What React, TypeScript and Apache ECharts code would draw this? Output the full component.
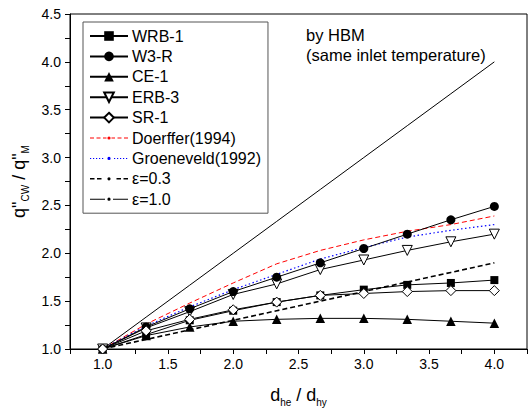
import React, { useEffect, useRef } from 'react';
import * as echarts from 'echarts';

const ratioX = [1.0, 1.333, 1.667, 2.0, 2.333, 2.667, 3.0, 3.333, 3.667, 4.0];
const wrb1 = [1.0, 1.15, 1.30, 1.40, 1.49, 1.56, 1.62, 1.67, 1.69, 1.72];
const w3r = [1.0, 1.23, 1.42, 1.60, 1.75, 1.90, 2.05, 2.20, 2.35, 2.49];
const ce1 = [1.0, 1.14, 1.23, 1.29, 1.31, 1.32, 1.32, 1.31, 1.29, 1.27];
const erb3 = [1.0, 1.22, 1.39, 1.57, 1.68, 1.83, 1.93, 2.03, 2.12, 2.20];
const sr1 = [1.0, 1.19, 1.31, 1.41, 1.49, 1.56, 1.58, 1.60, 1.61, 1.61];
const doerffer = [1.0, 1.26, 1.48, 1.69, 1.89, 2.03, 2.14, 2.23, 2.30, 2.39];
const groeneveld = [1.0, 1.24, 1.44, 1.62, 1.78, 1.94, 2.06, 2.17, 2.24, 2.30];
const eps03 = [1.0, 1.10, 1.20, 1.30, 1.40, 1.50, 1.60, 1.70, 1.80, 1.90];
const eps10 = [1.0, 1.333, 1.667, 2.0, 2.333, 2.667, 3.0, 3.333, 3.667, 4.0];

const FONT = 'Liberation Sans, Arial, sans-serif';

const corners = 'M0,0h0.01v0.01h-0.01z M37.99,11.99h0.01v0.01h-0.01z ';
const dot = 'M17.4,6a1.6,1.6 0 1,0 3.2,0a1.6,1.6 0 1,0 -3.2,0z ';
const dashIcon =
  'path://' + corners + dot +
  'M0,5.5h4v1h-4z M6.5,5.5h4v1h-4z M13,5.5h3.5v1h-3.5z M21.5,5.5h3.5v1h-3.5z M27.5,5.5h4v1h-4z M34,5.5h4v1h-4z';
const dotIcon = (() => {
  let d = 'path://' + corners + dot;
  for (let x = 0; x < 38; x += 3) {
    if (x > 14 && x < 22) continue;
    d += `M${x},5.5h1.2v1h-1.2z `;
  }
  return d;
})();
const boldDashIcon =
  'path://' + corners + dot +
  'M0,5.2h4.5v1.6h-4.5z M7,5.2h4.5v1.6h-4.5z M26.5,5.2h4.5v1.6h-4.5z M33.5,5.2h4.5v1.6h-4.5z';
const solidIcon =
  'path://' + corners + dot + 'M0,5.5h15v1h-15z M23,5.5h15v1h-15z';

function pts(ys: number[]) {
  return ratioX.map((x, i) => [x, ys[i]]);
}

function markerSeries(name: string, ys: number[], symbol: string, size: number, hollow: boolean, rotate = 0, z = 4) {
  return {
    type: 'line',
    name,
    data: pts(ys),
    symbol,
    symbolSize: size,
    symbolRotate: rotate,
    showAllSymbol: true,
    lineStyle: { color: '#000', width: 1 },
    itemStyle: hollow
      ? { color: '#fff', borderColor: '#000', borderWidth: 1 }
      : { color: '#000', borderColor: '#000', borderWidth: 0 },
    z,
  };
}

function lineSeries(name: string, ys: number[], color: string, type: any, width: number) {
  return {
    type: 'line',
    name,
    data: pts(ys),
    symbol: 'none',
    lineStyle: { color, width, type },
    itemStyle: { color, borderWidth: 0 },
    z: 3,
  };
}

export default function App() {
  const ref = useRef<HTMLDivElement>(null);
  useEffect(() => {
    if (!ref.current) return;
    const chart = echarts.init(ref.current, null, { renderer: 'svg' });
    const fmt = (lo: number, hi: number) => (v: number) => {
      const r = Math.round(v * 100) / 100;
      if (Math.abs(r * 2 - Math.round(r * 2)) < 1e-6 && r >= lo - 1e-6 && r <= hi + 1e-6) return r.toFixed(1);
      return '';
    };
    const nameRich = {
      a: { fontSize: 18, fontFamily: FONT, color: '#000', lineHeight: 20, verticalAlign: 'bottom' },
      b: { fontSize: 10, fontFamily: FONT, color: '#000', lineHeight: 10, verticalAlign: 'bottom', padding: [0, 0, -3, 0] },
    };
    chart.setOption({
      animation: false,
      backgroundColor: '#fff',
      textStyle: { fontFamily: FONT },
      grid: {
        left: 70, right: 2, top: 14, bottom: 59,
        show: true, borderColor: '#000', borderWidth: 1,
      },
      xAxis: {
        type: 'value', min: 0.75, max: 4.25, interval: 0.25,
        splitLine: { show: false },
        axisLine: { lineStyle: { color: '#000', width: 1 } },
        axisTick: { length: 5, lineStyle: { color: '#000' } },
        axisLabel: { color: '#000', fontSize: 14, fontFamily: FONT, margin: 8, formatter: fmt(1, 4), showMinLabel: true, showMaxLabel: true },
        name: '{a|d}{b|he}{a| / d}{b|hy}',
        nameLocation: 'middle',
        nameGap: 35,
        nameTextStyle: { rich: nameRich },
      },
      yAxis: {
        type: 'value', min: 1.0, max: 4.5, interval: 0.25,
        splitLine: { show: false },
        axisLine: { show: true, lineStyle: { color: '#000', width: 1 } },
        axisTick: { show: true, length: 5, lineStyle: { color: '#000' } },
        axisLabel: { color: '#000', fontSize: 14, fontFamily: FONT, margin: 9, formatter: fmt(1, 4.5), showMinLabel: true, showMaxLabel: true },
        name: '{a|q"}{b|CW}{a| / q"}{b|M}',
        nameLocation: 'middle',
        nameGap: 30,
        nameTextStyle: { rich: nameRich },
      },
      legend: {
        orient: 'vertical',
        left: 83, top: 22,
        padding: [6, 7, 6, 6],
        itemWidth: 38, itemHeight: 12, itemGap: 4.4,
        borderColor: '#555', borderWidth: 1,
        backgroundColor: '#fff',
        selectedMode: false,
        textStyle: { fontSize: 16, fontFamily: FONT, color: '#000', lineHeight: 16, padding: [0, 0, 0, -1] },
        data: [
          'WRB-1', 'W3-R', 'CE-1', 'ERB-3', 'SR-1',
          { name: 'Doerffer(1994)', icon: dashIcon },
          { name: 'Groeneveld(1992)', icon: dotIcon },
          { name: 'ε=0.3', icon: boldDashIcon },
          { name: 'ε=1.0', icon: solidIcon },
        ],
      },
      graphic: [
        {
          type: 'text', left: 306, top: 25,
          style: { text: 'by HBM\n(same inlet temperature)', fontSize: 16.5, lineHeight: 20, fontFamily: FONT, fill: '#000' },
        },
      ],
      series: [
        lineSeries('ε=1.0', eps10, '#000', 'solid', 1),
        lineSeries('ε=0.3', eps03, '#000', [5, 3], 1.6),
        lineSeries('Doerffer(1994)', doerffer, '#ff0000', [5, 3], 1),
        lineSeries('Groeneveld(1992)', groeneveld, '#0000ff', [1.5, 2.5], 1.2),
        markerSeries('CE-1', ce1, 'triangle', 9.5, false),
        markerSeries('WRB-1', wrb1, 'rect', 8, false),
        markerSeries('ERB-3', erb3, 'triangle', 10, true, 180),
        markerSeries('W3-R', w3r, 'circle', 9, false),
        markerSeries('SR-1', sr1, 'diamond', 10, true, 0, 5),
      ],
    });
    return () => chart.dispose();
  }, []);
  return <div ref={ref} style={{ position: 'fixed', left: 0, top: 0, width: 530, height: 412 }} />;
}
